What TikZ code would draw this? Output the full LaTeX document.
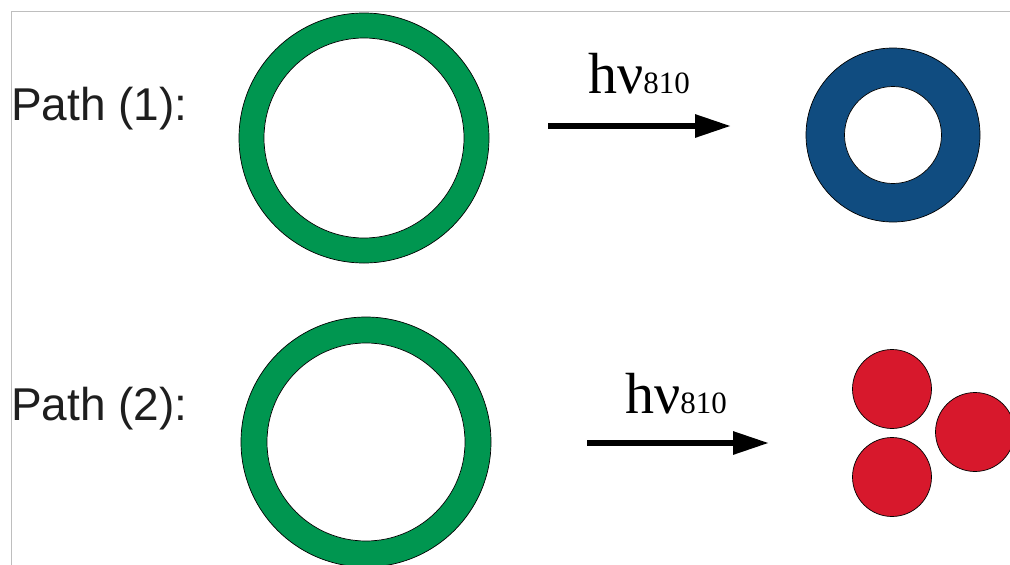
\documentclass[tikz,border=0pt]{standalone}
\usepackage{fontspec}
\setmainfont{Liberation Serif}
\newfontfamily\pathfont{Liberation Sans}
\usetikzlibrary{arrows.meta}
\definecolor{ringgreen}{RGB}{0,150,80}
\definecolor{ringblue}{RGB}{16,76,128}
\definecolor{dotred}{RGB}{215,24,44}
\definecolor{framegray}{RGB}{190,190,190}
\definecolor{textgray}{RGB}{30,30,30}

\tikzset{
  disc/.style={circle,draw=black,line width=0.7pt,inner sep=0pt,minimum size=#1},
  pathlabel/.style={anchor=base west,inner sep=0pt,text=textgray,font=\pathfont\fontsize{46}{46}\selectfont},
  hvlabel/.style={anchor=base west,inner sep=0pt},
  photon/.style={line width=6pt,-{Triangle[length=36pt,width=22pt]}}
}
\newcommand{\hvlight}{{\fontsize{58}{58}\selectfont hν}{\fontsize{31}{31}\selectfont 810}}

\begin{document}
\begin{tikzpicture}[x=1pt,y=-1pt]
    \useasboundingbox (0,0) rectangle (1010,565);
    \fill[white] (0,0) rectangle (1010,565);
    \draw[framegray,line width=1pt] (11,565) -- (11,11) -- (1010,11);

    \node[pathlabel] (lab1) at (11,120) {Path (1):};
    \node[pathlabel] (lab2) at (11,420) {Path (2):};

    \node[disc=250pt,fill=ringgreen] (ringA) at (364,138) {};
    \node[disc=200pt,fill=white] (holeA) at (ringA.center) {};
    \node[disc=250pt,fill=ringgreen] (ringB) at (366,442) {};
    \node[disc=198pt,fill=white] (holeB) at (ringB.center) {};

    \coordinate (arrA-s) at (548,126);
    \coordinate (arrA-e) at (731,126);
    \draw[photon] (arrA-s) -- (arrA-e);
    \node[hvlabel] (hvA) at (588,93) {\hvlight};

    \coordinate (arrB-s) at (587,443);
    \coordinate (arrB-e) at (769,443);
    \draw[photon] (arrB-s) -- (arrB-e);
    \node[hvlabel] (hvB) at (625,413) {\hvlight};

    \node[disc=174pt,fill=ringblue] (ringC) at (893,135) {};
    \node[disc=97pt,fill=white] (holeC) at (ringC.center) {};

    \node[disc=79pt,fill=dotred] (dot1) at (892,389) {};
    \node[disc=79pt,fill=dotred] (dot2) at (892,477) {};
    \node[disc=79pt,fill=dotred] (dot3) at (975,432) {};
\end{tikzpicture}
\end{document}
